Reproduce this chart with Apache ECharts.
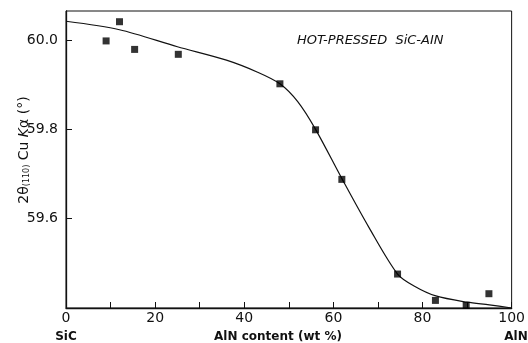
<!DOCTYPE html>
<html><head><meta charset="utf-8">
<script src="https://cdn.jsdelivr.net/npm/echarts@6/dist/echarts.min.js"></script>
<style>html,body{margin:0;padding:0;background:#fff}#c{width:528px;height:343px}</style>
</head><body><div id="c"></div>
<script>
// measured points: [AlN wt%, 2θ(110) degrees]
const pointsX = [9, 12, 15.4, 25.2, 48, 56, 61.9, 74.4, 82.9, 89.8, 94.9];
const pointsY = [59.998, 60.041, 59.979, 59.968, 59.902, 59.799, 59.688, 59.476, 59.417, 59.406, 59.432];
// fitted curve
const curveX = [0, 12, 25, 36, 43, 48, 52, 56, 62, 68, 74.4, 78, 83, 90, 95, 100];
const curveY = [60.042, 60.023, 59.985, 59.955, 59.928, 59.902, 59.862, 59.80, 59.688, 59.58, 59.476, 59.450, 59.427, 59.413, 59.407, 59.40];
const xTicks = [0, 20, 40, 60, 80, 100];
const yTicks = [59.6, 59.8, 60.0];

const chart = echarts.init(document.getElementById('c'), null, {renderer: 'canvas'});
const F = 'DejaVu Sans';
chart.setOption({
  animation: false,
  grid: {left: 66, right: 12, top: 11, bottom: 35, show: true, borderColor: '#111', borderWidth: 1},
  xAxis: {
    type: 'value', min: 0, max: 100, interval: 20,
    axisLine: {lineStyle: {color: '#111', width: 1.3}},
    axisTick: {inside: true, length: 6, lineStyle: {color: '#111'}},
    minorTick: {show: true, splitNumber: 2, length: 6, lineStyle: {color: '#111'}},
    splitLine: {show: false},
    axisLabel: {color: '#111', fontFamily: F, fontSize: 14, margin: 3,
      formatter: v => xTicks.includes(v) ? String(v) : ''}
  },
  yAxis: {
    type: 'value', min: 59.4, max: 60.065, interval: 0.2,
    axisLine: {lineStyle: {color: '#111', width: 1.3}},
    axisTick: {inside: true, length: 6, lineStyle: {color: '#111'}},
    splitLine: {show: false},
    axisLabel: {color: '#111', fontFamily: F, fontSize: 14, margin: 8, showMaxLabel: false,
      formatter: v => yTicks.some(t => Math.abs(t - v) < 1e-6) ? v.toFixed(1) : ''}
  },
  graphic: [
    {type: 'text', left: 297, top: 34, style: {text: 'HOT-PRESSED  SiC-AIN', font: 'italic 13px "DejaVu Sans"', fill: '#111'}},
    {type: 'text', x: 66, y: 337, style: {text: 'SiC', font: 'bold 12px "DejaVu Sans"', fill: '#111', align: 'center', verticalAlign: 'middle'}},
    {type: 'text', x: 278, y: 337, style: {text: 'AlN content (wt %)', font: 'bold 12px "DejaVu Sans"', fill: '#111', align: 'center', verticalAlign: 'middle'}},
    {type: 'text', x: 516, y: 337, style: {text: 'AlN', font: 'bold 12px "DejaVu Sans"', fill: '#111', align: 'center', verticalAlign: 'middle'}},
    {type: 'text', x: 24, y: 150, rotation: Math.PI / 2,
      style: {
        text: '{n|2θ}{s|(110)}{n| Cu }{i|K}{n|α (°)}',
        align: 'center', verticalAlign: 'middle', fill: '#111',
        rich: {
          n: {font: '14px "DejaVu Sans"', fill: '#111'},
          i: {font: 'italic 14px "DejaVu Sans"', fill: '#111'},
          s: {font: '8px "DejaVu Sans"', fill: '#111', verticalAlign: 'bottom', padding: [6, 0, 0, 0]}
        }
      }}
  ],
  series: [
    {type: 'line', data: curveX.map((x, i) => [x, curveY[i]]), smooth: 0.3, showSymbol: false,
      lineStyle: {color: '#111', width: 1.2}, z: 2},
    {type: 'scatter', data: pointsX.map((x, i) => [x, pointsY[i]]), symbol: 'rect', symbolSize: 7,
      itemStyle: {color: '#000'}, z: 3}
  ]
});
</script></body></html>
